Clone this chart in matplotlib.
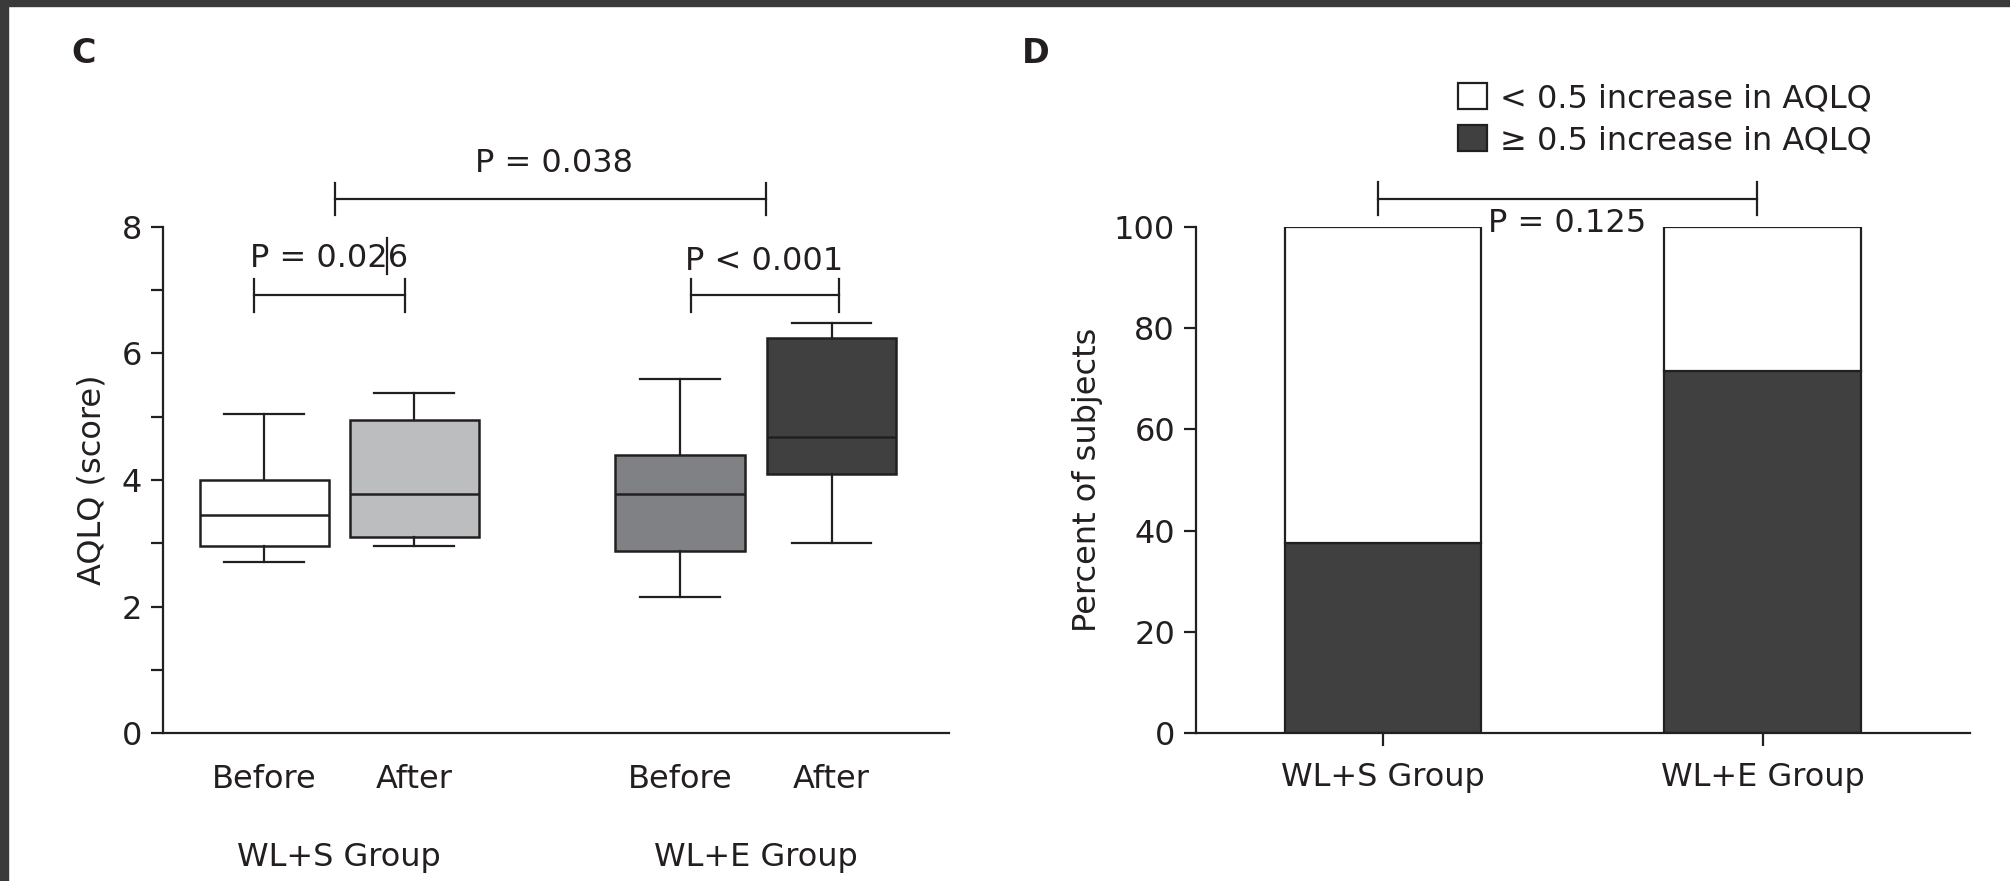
import matplotlib.pyplot as plt
from matplotlib.patches import Rectangle

plt.rcParams['font.family'] = ['DejaVu Sans']
plt.rcParams['font.size'] = 23

ink = '#231f20'

# Panel C data: whisker low, Q1, median, Q3, whisker high
box_labels = ['Before', 'After', 'Before', 'After']
box_pos = [1, 2, 3.77, 4.78]
box_stats_vals = [
    [2.7, 2.95, 3.45, 4.0, 5.05],
    [2.95, 3.1, 3.78, 4.95, 5.38],
    [2.15, 2.88, 3.78, 4.4, 5.6],
    [3.0, 4.1, 4.68, 6.25, 6.48],
]
box_colors = ['#ffffff', '#bcbdbf', '#808184', '#404040']
group_labels = ['WL+S Group', 'WL+E Group']

# Panel D data
bar_groups = ['WL+S Group', 'WL+E Group']
pct_high = [37.5, 71.5]
pct_low = [100 - v for v in pct_high]

fig = plt.figure(figsize=(20.1, 8.81), dpi=100)

# dark frame at top/left edge
fig.patches.append(Rectangle((0, 1 - 6 / 881), 1, 6 / 881, transform=fig.transFigure,
                             color='#3a3a3a', zorder=0))
fig.patches.append(Rectangle((0, 0), 8 / 2010, 1, transform=fig.transFigure,
                             color='#3a3a3a', zorder=0))

# ---------------- Panel C ----------------
ax = fig.add_axes([0.0810, 0.1678, 0.3910, 0.5747])
stats = []
for lab, v in zip(box_labels, box_stats_vals):
    stats.append({'label': lab, 'whislo': v[0], 'q1': v[1], 'med': v[2],
                  'q3': v[3], 'whishi': v[4], 'fliers': []})
bp = ax.bxp(stats, positions=box_pos, widths=0.86, patch_artist=True,
            showfliers=False,
            boxprops=dict(linewidth=1.8, edgecolor=ink),
            medianprops=dict(linewidth=1.8, color=ink),
            whiskerprops=dict(linewidth=1.6, color=ink),
            capprops=dict(linewidth=1.6, color=ink),
            capwidths=0.53)
for patch, c in zip(bp['boxes'], box_colors):
    patch.set_facecolor(c)

ax.set_xlim(0.325, 5.56)
ax.set_ylim(0, 8)
ax.set_yticks([0, 2, 4, 6, 8])
ax.set_yticks([1, 3, 5, 7], minor=True)
ax.spines['top'].set_visible(False)
ax.spines['right'].set_visible(False)
for s in ['left', 'bottom']:
    ax.spines[s].set_linewidth(1.6)
    ax.spines[s].set_color(ink)
ax.tick_params(axis='y', which='both', length=9, width=1.6, color=ink, labelcolor=ink, pad=6)
ax.tick_params(axis='x', length=0, pad=22, labelcolor=ink)
ax.set_ylabel('AQLQ (score)', color=ink, labelpad=10)
for i, g in enumerate(group_labels):
    mid = (box_pos[2 * i] + box_pos[2 * i + 1]) / 2
    ax.text(mid, -1.96, g, ha='center', va='center', color=ink)


def bracket(a, x1, x2, y, h, txt, ty, tx=None):
    a.plot([x1, x2], [y, y], color=ink, lw=1.6, clip_on=False)
    for x in (x1, x2):
        a.plot([x, x], [y - h, y + h], color=ink, lw=1.6, clip_on=False)
    if tx is None:
        tx = (x1 + x2) / 2
    a.text(tx, ty, txt, ha='center', va='center', color=ink, clip_on=False)


bracket(ax, 0.93, 1.94, 6.92, 0.26, 'P = 0.026', 7.5)
bracket(ax, 3.84, 4.83, 6.92, 0.26, 'P < 0.001', 7.45, 4.33)
bracket(ax, 1.47, 4.34, 8.44, 0.26, 'P = 0.038', 9.0, 2.93)
# stray mark through the P value, as in the source figure
ax.plot([1.817, 1.817], [7.25, 7.82], color=ink, lw=1.6, clip_on=False)

fig.text(65 * 1.2819 / 2010, 1 - 42 * 1.2819 / 881, 'C', fontsize=24, fontweight='bold',
         color=ink, ha='center', va='center')

# ---------------- Panel D ----------------
ax2 = fig.add_axes([0.5950, 0.1678, 0.3852, 0.5747])
xs = [0, 1]
ax2.bar(xs, pct_high, width=0.517, color='#404040', edgecolor=ink, linewidth=1.6,
        label='\u2265 0.5 increase in AQLQ')
ax2.bar(xs, pct_low, width=0.517, bottom=pct_high, color='white', edgecolor=ink,
        linewidth=1.6, label='< 0.5 increase in AQLQ')
ax2.set_xlim(-0.493, 1.547)
ax2.set_ylim(0, 100)
ax2.set_yticks([0, 20, 40, 60, 80, 100])
ax2.set_xticks(xs)
ax2.set_xticklabels(bar_groups)
ax2.spines['top'].set_visible(False)
ax2.spines['right'].set_visible(False)
for s in ['left', 'bottom']:
    ax2.spines[s].set_linewidth(1.6)
    ax2.spines[s].set_color(ink)
ax2.tick_params(axis='both', length=9, width=1.6, color=ink, labelcolor=ink, pad=6)
ax2.tick_params(axis='x', pad=12)
ax2.set_ylabel('Percent of subjects', color=ink, labelpad=8)

bracket(ax2, -0.014, 0.986, 105.6, 3.3, 'P = 0.125', 100.6, 0.484)

handles, labels = ax2.get_legend_handles_labels()
leg = ax2.legend(handles[::-1], labels[::-1], loc='upper left',
                 bbox_to_anchor=(0.338, 1.285), frameon=False,
                 borderpad=0, borderaxespad=0,
                 handlelength=0.92, handleheight=0.92, handletextpad=0.4,
                 labelspacing=0.33, fontsize=23)
for t in leg.get_texts():
    t.set_color(ink)

fig.text(808 * 1.2819 / 2010, 1 - 42 * 1.2819 / 881, 'D', fontsize=24, fontweight='bold',
         color=ink, ha='center', va='center')

fig.savefig('out.png', dpi=100)
